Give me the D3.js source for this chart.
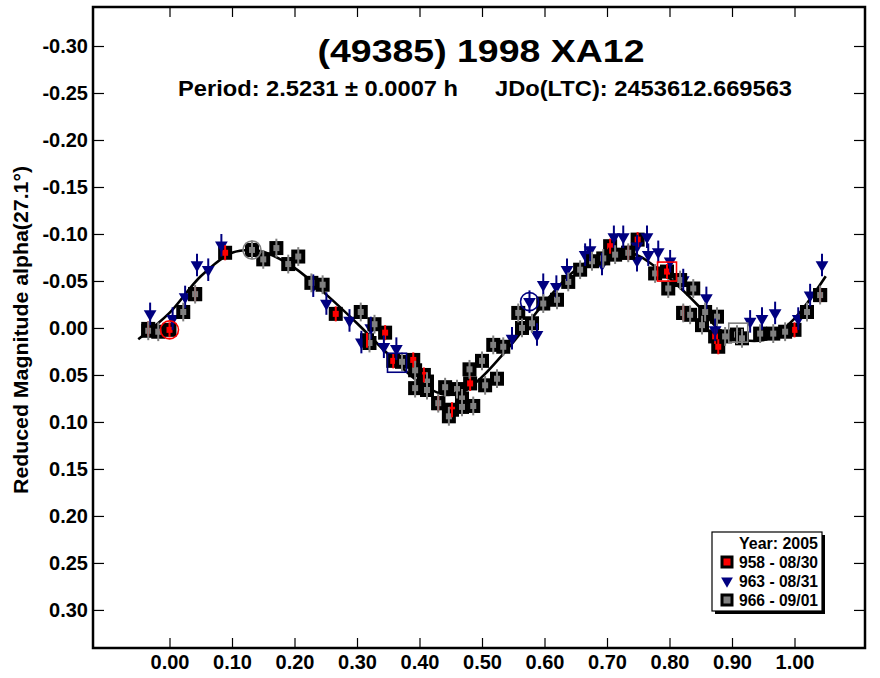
<!DOCTYPE html>
<html><head><meta charset="utf-8">
<script src="https://cdn.jsdelivr.net/npm/d3@7"></script>
<style>
html,body{margin:0;padding:0;background:#fff;}
svg{display:block;font-family:"Liberation Sans",Arial,sans-serif;font-weight:bold;}
</style>
</head><body>
<svg id="chart" width="880" height="678"></svg>
<script>
// ---------- data ----------
const titleText = "(49385) 1998 XA12";
const periodText = "Period: 2.5231 \u00B1 0.0007 h";
const epochText = "JDo(LTC): 2453612.669563";
const yAxisTitle = "Reduced Magnitude alpha(27.1\u00B0)";
const legendTitle = "Year: 2005";
const seriesNames = ["958 - 08/30", "963 - 08/31", "966 - 09/01"];

const xTickValues = [0.0, 0.1, 0.2, 0.3, 0.4, 0.5, 0.6, 0.7, 0.8, 0.9, 1.0];
const xTickLabels = ["0.00","0.10","0.20","0.30","0.40","0.50","0.60","0.70","0.80","0.90","1.00"];
const yTickValues = [-0.30,-0.25,-0.20,-0.15,-0.10,-0.05,0.00,0.05,0.10,0.15,0.20,0.25,0.30];
const yTickLabels = ["-0.30","-0.25","-0.20","-0.15","-0.10","-0.05","0.00","0.05","0.10","0.15","0.20","0.25","0.30"];

// session 958 (08/30) [phase, mag]
const s958 = [[-0.034,0.001],[0.000,0.002],[0.041,-0.036],[0.089,-0.080],[0.132,-0.083],[0.266,-0.015],
  [0.316,0.013],[0.345,0.005],[0.358,0.035],[0.390,0.034],[0.407,0.050],[0.430,0.080],[0.452,0.087],
  [0.481,0.059],[0.705,-0.087],[0.734,-0.080],[0.749,-0.094],[0.796,-0.060],[0.822,-0.016],[0.873,0.009],
  [0.878,0.020],[1.000,0.002],[1.041,-0.035]];
// session 963 (08/31)
const s963 = [[-0.031,-0.015],[0.005,-0.010],[0.025,-0.033],[0.044,-0.067],[0.062,-0.062],[0.083,-0.088],
  [0.230,-0.045],[0.251,-0.026],[0.288,-0.008],[0.307,0.015],[0.322,0.000],[0.343,0.020],[0.363,0.022],
  [0.548,0.011],[0.576,-0.028],[0.588,0.007],[0.598,-0.046],[0.619,-0.044],[0.636,-0.062],[0.665,-0.078],
  [0.673,-0.083],[0.692,-0.068],[0.711,-0.097],[0.726,-0.097],[0.748,-0.087],[0.748,-0.072],[0.764,-0.097],
  [0.766,-0.078],[0.782,-0.081],[0.801,-0.071],[0.822,-0.051],[0.859,-0.032],[0.873,0.002],[0.929,-0.007],
  [0.948,-0.010],[0.969,-0.016],[1.006,-0.010],[1.025,-0.035],[1.044,-0.067]];
// session 966 (09/01)
const s966 = [[-0.034,0.003],[-0.018,0.004],[0.022,-0.017],[0.041,-0.036],[0.132,-0.083],[0.150,-0.073],
  [0.171,-0.085],[0.190,-0.068],[0.206,-0.076],[0.227,-0.048],[0.245,-0.046],[0.306,-0.017],[0.328,-0.004],
  [0.320,0.016],[0.372,0.036],[0.393,0.045],[0.393,0.064],[0.412,0.057],[0.412,0.066],[0.430,0.080],
  [0.441,0.063],[0.447,0.094],[0.460,0.065],[0.468,0.075],[0.468,0.084],[0.480,0.044],[0.486,0.083],
  [0.500,0.035],[0.505,0.061],[0.518,0.018],[0.524,0.054],[0.534,0.020],[0.558,-0.016],[0.564,0.000],
  [0.580,-0.005],[0.598,-0.026],[0.620,-0.030],[0.638,-0.049],[0.657,-0.062],[0.676,-0.071],[0.694,-0.074],
  [0.713,-0.078],[0.734,-0.080],[0.777,-0.058],[0.798,-0.042],[0.817,-0.051],[0.822,-0.016],[0.833,-0.014],
  [0.838,-0.042],[0.852,-0.003],[0.857,-0.017],[0.876,-0.012],[0.889,0.009],[0.908,0.007],[0.916,0.011],
  [0.945,0.006],[0.966,0.006],[0.985,0.004],[1.020,-0.017],[1.041,-0.035]];
// marked (first) points of each session
const circled958 = [[0.000,0.002]];
const circled963 = [[0.576,-0.028]];
const circled966 = [[0.132,-0.083]];
const boxed958 = [[0.796,-0.060]];
const boxed963 = [[0.364,0.037]];
const boxed966 = [[0.910,0.005]];
// error half-widths (mag) per session
const err958 = 0.008, err963 = 0.012, err966 = 0.010;
// Fourier fit curve
const fitPhase = [-0.05,0.00,0.05,0.10,0.13,0.15,0.20,0.25,0.30,0.35,0.40,0.44,0.47,0.50,0.55,0.60,0.65,0.70,0.72,0.75,0.80,0.85,0.88,0.92,0.96,1.00,1.05];
const fitMag   = [0.012,-0.016,-0.055,-0.080,-0.083,-0.081,-0.064,-0.036,-0.005,0.028,0.058,0.071,0.068,0.052,0.015,-0.027,-0.062,-0.080,-0.082,-0.077,-0.053,-0.021,0.002,0.013,0.011,-0.010,-0.055];

// ---------- drawing ----------
const svg = d3.select("#chart");
const L = 93, R = 865, T = 7, B = 648;
const x = d3.scaleLinear().domain([-0.1224, 1.1128]).range([L, R]);
const y = d3.scaleLinear().domain([-0.3415, 0.3405]).range([T, B]);

const RED = "#ff0000", NAVY = "#000080", GRAY = "#808080";

// axes with inward ticks
const gx = svg.append("g").attr("transform", `translate(0,${B})`)
  .call(d3.axisBottom(x).tickValues(xTickValues).tickSizeInner(-10).tickSizeOuter(0)
    .tickPadding(7).tickFormat((d,i)=>xTickLabels[i]));
const gxt = svg.append("g").attr("transform", `translate(0,${T})`)
  .call(d3.axisTop(x).tickValues(xTickValues).tickSizeInner(-10).tickSizeOuter(0).tickFormat(""));
const gy = svg.append("g").attr("transform", `translate(${L},0)`)
  .call(d3.axisLeft(y).tickValues(yTickValues).tickSizeInner(-11).tickSizeOuter(0)
    .tickPadding(5).tickFormat((d,i)=>yTickLabels[i]));
const gyr = svg.append("g").attr("transform", `translate(${R},0)`)
  .call(d3.axisRight(y).tickValues(yTickValues).tickSizeInner(-11).tickSizeOuter(0).tickFormat(""));
[gx,gxt,gy,gyr].forEach(g=>{
  g.select(".domain").remove();
  g.selectAll(".tick line").attr("stroke","#000").attr("stroke-width",1.2);
  g.selectAll("text").attr("fill","#000").attr("font-size",20).attr("font-weight","bold")
    .attr("font-family",'"Liberation Sans",Arial,sans-serif');
});

// frame
svg.append("rect").attr("x",L).attr("y",T).attr("width",R-L).attr("height",B-T)
  .attr("fill","none").attr("stroke","#000").attr("stroke-width",2.5);

// titles
svg.append("text").attr("x",481).attr("y",62).attr("text-anchor","middle")
  .attr("font-size",31).attr("textLength",327).attr("lengthAdjust","spacingAndGlyphs").text(titleText);
svg.append("text").attr("x",178).attr("y",96)
  .attr("font-size",22).attr("textLength",280).attr("lengthAdjust","spacingAndGlyphs").text(periodText);
svg.append("text").attr("x",495).attr("y",96)
  .attr("font-size",22).attr("textLength",297).attr("lengthAdjust","spacingAndGlyphs").text(epochText);
svg.append("text").attr("transform","translate(28,330) rotate(-90)").attr("text-anchor","middle")
  .attr("font-size",20).attr("textLength",328).attr("lengthAdjust","spacingAndGlyphs").text(yAxisTitle);

// fit curve
const plot = svg.append("g");
const fitData = fitPhase.map((p,i)=>[p, fitMag[i]]);
plot.append("path").datum(fitData)
  .attr("d", d3.line().x(d=>x(d[0])).y(d=>y(d[1])).curve(d3.curveCatmullRom.alpha(0.5)))
  .attr("fill","none").attr("stroke","#000").attr("stroke-width",2.6);

function squares(data, fill){
  plot.append("g").selectAll("rect").data(data).join("rect")
    .attr("x",d=>x(d[0])-5).attr("y",d=>y(d[1])-5).attr("width",10).attr("height",10)
    .attr("fill",fill).attr("stroke","#000").attr("stroke-width",4);
}
function triangles(data, fill){
  const tri = d3.symbol().type(d3.symbolTriangle).size(70);
  plot.append("g").selectAll("path").data(data).join("path")
    .attr("d",tri()).attr("transform",d=>`translate(${x(d[0])},${y(d[1])}) rotate(180)`)
    .attr("fill",fill);
}
function bars(data, err, color){
  plot.append("g").selectAll("line").data(data).join("line")
    .attr("x1",d=>x(d[0])).attr("x2",d=>x(d[0]))
    .attr("y1",d=>y(d[1]-err)).attr("y2",d=>y(d[1]+err))
    .attr("stroke",color).attr("stroke-width",2);
}
squares(s958, RED);
triangles(s963, NAVY);
squares(s966, GRAY);
bars(s958, err958, RED);
bars(s963, err963, NAVY);
bars(s966, err966, GRAY);

function circles(data, color){
  plot.append("g").selectAll("circle").data(data).join("circle")
    .attr("cx",d=>x(d[0])).attr("cy",d=>y(d[1])).attr("r",9)
    .attr("fill","none").attr("stroke",color).attr("stroke-width",1.6);
}
function boxes(data, color){
  plot.append("g").selectAll("rect").data(data).join("rect")
    .attr("x",d=>x(d[0])-9.5).attr("y",d=>y(d[1])-9.5).attr("width",19).attr("height",19)
    .attr("fill","none").attr("stroke",color).attr("stroke-width",1.6);
}
circles(circled958, RED); circles(circled963, NAVY); circles(circled966, GRAY);
boxes(boxed958, RED); boxes(boxed963, NAVY); boxes(boxed966, GRAY);

// legend
const lg = svg.append("g").attr("transform","translate(712,532)");
lg.append("rect").attr("x",3).attr("y",3).attr("width",110).attr("height",79).attr("fill","#000");
lg.append("rect").attr("x",0).attr("y",0).attr("width",110).attr("height",79)
  .attr("fill","#fff").attr("stroke","#000").attr("stroke-width",1.2);
lg.append("text").attr("x",27).attr("y",16.5).attr("font-size",16)
  .attr("textLength",79).attr("lengthAdjust","spacingAndGlyphs").text(legendTitle);
const rowY = [30, 49, 68];
const colors = [RED, NAVY, GRAY];
seriesNames.forEach((nm,i)=>{
  lg.append("text").attr("x",27).attr("y",rowY[i]+5.5).attr("font-size",16)
    .attr("textLength",79).attr("lengthAdjust","spacingAndGlyphs").text(nm);
  if(i===1){
    lg.append("path").attr("d",d3.symbol().type(d3.symbolTriangle).size(60)())
      .attr("transform",`translate(15,${rowY[i]}) rotate(180)`).attr("fill",NAVY);
  } else {
    lg.append("rect").attr("x",10).attr("y",rowY[i]-5).attr("width",10).attr("height",10)
      .attr("fill",colors[i]).attr("stroke","#000").attr("stroke-width",3);
  }
});
</script>
</body></html>
